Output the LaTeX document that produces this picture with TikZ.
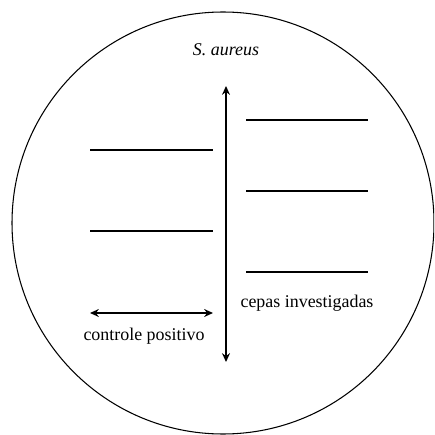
\documentclass[tikz,border=0pt]{standalone}
\usepackage{fontspec}
\setmainfont{Liberation Serif}
\usepackage{tikz}
\usetikzlibrary{arrows.meta, positioning}
\tikzset{
    plate/.style={draw=black, line width=0.6pt},
    streak/.style={draw=black, line width=1.1pt},
    arrow/.style={line width=1.1pt, {Stealth[length=5pt,width=4.5pt]}-{Stealth[length=5pt,width=4.5pt]}},
    tag/.style={font=\rmfamily\fontsize{10.2}{12}\selectfont, inner sep=0pt}
}

\begin{document}
\begin{tikzpicture}[x=0.02cm, y=-0.02cm]
    \useasboundingbox (0,0) rectangle (434,435);
    \clip (0,0) rectangle (434,435);
    \draw [plate] (223,223) circle [radius=211];

    \node (aureus) [tag] at (226,50) {\textit{S. aureus}};
    \coordinate (top) at (226,86);
    \coordinate (bottom) at (226,362);
    \draw [arrow] (top) -- (bottom);

    % left side
    \draw [streak] (90,150) -- (213,150);
    \draw [streak] (90,231) -- (213,231);
    \coordinate (ctlL) at (90,313);
    \coordinate (ctlR) at (213,313);
    \draw [arrow] (ctlL) -- (ctlR);
    \node (ctl) [tag] at (144,336) {controle positivo};

    % right side
    \draw [streak] (246,120) -- (368,120);
    \draw [streak] (246,191) -- (368,191);
    \draw [streak] (246,272) -- (368,272);
    \node (cepas) [tag] at (307,303) {cepas investigadas};
\end{tikzpicture}
\end{document}
